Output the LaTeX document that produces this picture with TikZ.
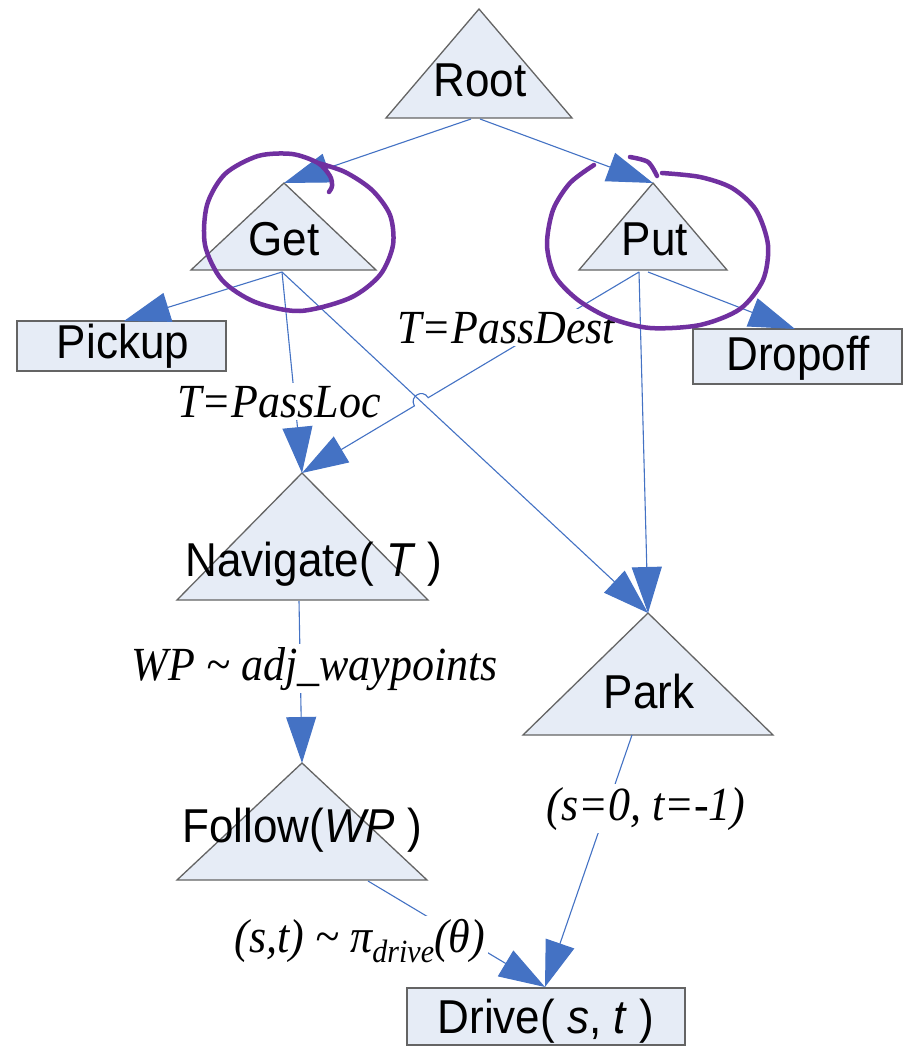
\documentclass[tikz,border=0pt]{standalone}
\usepackage{fontspec}
\setmainfont{Liberation Sans}
\newfontfamily\tnr{Liberation Serif}
\usetikzlibrary{arrows.meta}
\definecolor{fillc}{RGB}{230,236,246}
\definecolor{edgec}{RGB}{100,100,100}
\definecolor{linkc}{RGB}{68,114,196}
\definecolor{purp}{RGB}{112,48,160}
\newcommand\vstr[1]{\scalebox{1}[1.08]{#1}}
\begin{document}
\begin{tikzpicture}[x=1pt,y=-1pt,
  shp/.style={fill=fillc,draw=edgec,line width=1.3pt},
  link/.style={draw=linkc,line width=1.1pt,-{Triangle[length=46pt,width=30pt]}},
  txt/.style={font=\fontsize{44}{48}\selectfont,inner sep=0pt,anchor=base},
  lab/.style={font=\tnr\itshape\fontsize{44}{48}\selectfont,fill=white,inner sep=3pt,anchor=base},
  ring/.style={draw=purp,line width=4.5pt,line cap=round,line join=round}]
\useasboundingbox (0,0) rectangle (907,1051);
\fill[white] (0,0) rectangle (907,1051);
% triangles
\draw[shp] (386,118) -- (572,118) -- (479,9) -- cycle;
\draw[shp] (191,270) -- (376,270) -- (284,183) -- cycle;
\draw[shp] (579,270) -- (727,270) -- (653,183) -- cycle;
\draw[shp] (177,600) -- (428,600) -- (302,473) -- cycle;
\draw[shp] (523,735) -- (773,735) -- (648,613) -- cycle;
\draw[shp] (177,880) -- (427,880) -- (302,763) -- cycle;
% boxes
\draw[shp] (17,321) rectangle (226,371);
\draw[shp] (693,329) rectangle (902,384);
\draw[shp] (407,988) rectangle (685,1045);
% anchor coordinates
\coordinate (rootL) at (471,119);
\coordinate (rootR) at (480,119);
\coordinate (getA) at (284,183);
\coordinate (putA) at (653,183);
\coordinate (getB) at (282,272);
\coordinate (putB) at (639,272);
\coordinate (putBR) at (648,272);
\coordinate (pickT) at (124,321);
\coordinate (dropT) at (795,329);
\coordinate (navA) at (302,473);
\coordinate (navB) at (299,601);
\coordinate (parkA) at (648,613);
\coordinate (parkB) at (632,735);
\coordinate (folA) at (302,763);
\coordinate (folB) at (368,881);
\coordinate (drvT) at (545,987);
\coordinate (hop1) at (428.2,397.7);
\coordinate (hop2) at (414.4,405.9);
% connectors
\draw[link] (rootL) -- (getA);
\draw[link] (rootR) -- (putA);
\draw[link] (getB) -- (pickT);
\draw[link] (getB) -- (navA);
\draw[link] (getB) -- (parkA);
\draw[link] (putB) -- (hop1) .. controls (422.6,388.3) and (408.8,396.5) .. (hop2) -- (navA);
\draw[link] (putB) -- (parkA);
\draw[link] (putBR) -- (dropT);
\draw[link] (navB) -- (folA);
\draw[link] (folB) -- (drvT);
\draw[link] (parkB) -- (drvT);
% labels
\node[lab] (lPassDest) at (506,343) {\vstr{T=PassDest}};
\node[lab] (lPassLoc) at (279,417) {\vstr{T=PassLoc}};
\node[lab] (lWP) at (315,680) {\vstr{WP \textasciitilde\ adj\_waypoints}};
\node[lab] (lPark) at (646,820) {\vstr{(s=0, t=-1)}};
\node[lab] (lDrive) at (360,952) {\vstr{(s,t) \textasciitilde\ π\raisebox{-0.22em}{\fontsize{30}{30}\selectfont drive}(θ)}};
% node texts
\node[txt] (tRoot) at (480,97) {\vstr{Root}};
\node[txt] (tGet) at (284,255) {\vstr{Get}};
\node[txt] (tPut) at (655,255) {\vstr{Put}};
\node[txt] (tPickup) at (123,358) {\vstr{Pickup}};
\node[txt] (tDropoff) at (798,370) {\vstr{Dropoff}};
\node[txt] (tNav) at (314,576) {\vstr{Navigate( \textit{T} )}};
\node[txt] (tPark) at (649,708) {\vstr{Park}};
\node[txt] (tFollow) at (302,842) {\vstr{Follow(\textit{WP} )}};
\node[txt] (tDrive) at (546,1033) {\vstr{Drive( \textit{s}, \textit{t} )}};
% purple rings
\draw[ring] plot[smooth] coordinates {(318,163) (345,172) (372,190) (390,215) (393,245) (380,275) (350,298) (300,311) (255,302) (222,280) (205,245) (207,205) (225,174) (258,156) (292,154) (318,163) (330,176) (332,186) (329,192)};
\draw[ring] plot[smooth] coordinates {(594,165) (570,183) (553,210) (547,245) (555,276) (578,300) (610,318) (650,328) (700,325) (740,309) (763,280) (768,245) (756,210) (732,188) (700,177) (662,173)};
\draw[ring] plot[smooth] coordinates {(630,157) (648,162) (657,176)};
\end{tikzpicture}
\end{document}
